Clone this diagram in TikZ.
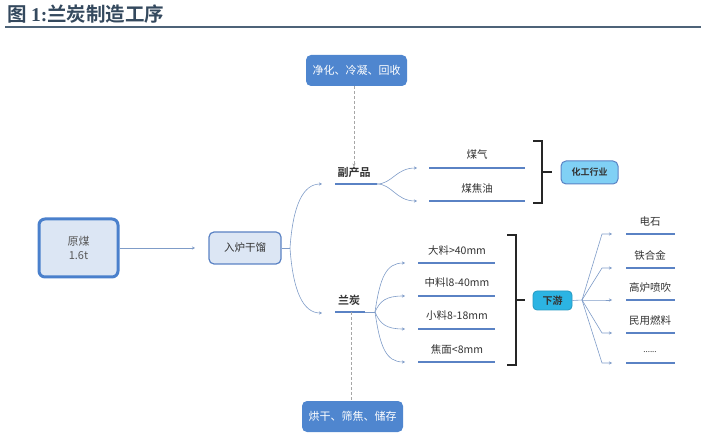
\documentclass[tikz,border=0pt]{standalone}
\usepackage{fontspec}
\setmainfont{Noto Sans CJK SC}[BoldFont={Noto Sans CJK SC Bold}]
\newfontfamily\tnr{Liberation Serif}
\usetikzlibrary{arrows.meta}
\definecolor{titlec}{HTML}{34495E}
\definecolor{rulec}{HTML}{4D6378}
\definecolor{connc}{HTML}{7F9CC8}
\definecolor{ulc}{HTML}{5A82C4}
\definecolor{rawc}{HTML}{4A80CC}
\definecolor{paleblue}{HTML}{DCE6F4}
\definecolor{boxblue}{HTML}{4F86CF}
\definecolor{skyfill}{HTML}{80D0F5}
\definecolor{cyanfill}{HTML}{2CB4E3}
\definecolor{txtc}{HTML}{333333}
\begin{document}
\begin{tikzpicture}[x=1pt,y=-1pt,
  conn/.style={draw=connc,line width=0.6pt},
  connarrow/.style={conn,-{Stealth[length=3pt,width=3pt]}},
  uline/.style={draw=ulc,line width=1.7pt},
  brk/.style={draw=black!85,line width=1.3pt},
  lbl/.style={font=\fontsize{10.5}{12}\selectfont,text=txtc,inner sep=0pt},
  blbl/.style={font=\fontsize{11}{12}\selectfont\bfseries,text=txtc,inner sep=0pt},
  darkbox/.style={fill=boxblue,rounded corners=5pt,text=white,minimum width=101pt,minimum height=31pt,inner sep=0pt,font=\fontsize{11}{12}\selectfont},
  dashc/.style={draw=black!35,line width=0.6pt,dashed,dash pattern=on 3pt off 2pt}
]
\useasboundingbox (0,0) rectangle (704,435);
% title
\node[anchor=west,inner sep=0pt,text=titlec,font=\fontsize{19.5}{21}\selectfont\bfseries] (title) at (7,14) {图 {\tnr\bfseries 1:}兰炭制造工序};
\draw[rulec,line width=2.2pt] (5,27) -- (701,27);

% left boxes
\node[draw=rawc,line width=3pt,fill=paleblue,rounded corners=6pt,minimum width=79pt,minimum height=58pt,align=center,text=black!65,font=\fontsize{11}{14}\selectfont,inner sep=0pt] (raw) at (78.5,248) {原煤\\1.6t};
\node[draw=ulc,line width=1.2pt,fill=paleblue,rounded corners=5pt,minimum width=72pt,minimum height=32pt,text=txtc,font=\fontsize{10.5}{12}\selectfont,inner sep=0pt] (gan) at (245,248) {入炉干馏};
\coordinate (ganin) at (195,248);
\draw[connarrow] (raw.east) -- (ganin);

% fork after gan
\coordinate (f1) at (290,248);
\coordinate (by0) at (322,184);
\coordinate (lt0) at (322,313);
\draw[conn] (gan.east) -- (f1);
\draw[connarrow] (f1) .. controls (293,205) and (303,184) .. (by0);
\draw[connarrow] (f1) .. controls (293,291) and (303,313) .. (lt0);

% by-products
\node[blbl] (by) at (354,172) {副产品};
\coordinate (byL) at (335,184);
\coordinate (byR) at (377,184);
\draw[uline] (byL) -- (byR);
\node[darkbox] (top) at (356.5,70.5) {净化、冷凝、回收};
\draw[dashc,-{Stealth[length=3pt,width=3pt]}] (top.south -| by.north) -- (by.north);

\coordinate (gasE) at (417,168);
\coordinate (tarE) at (417,201);
\draw[connarrow] (byR) .. controls (392,184) and (396,168) .. (gasE);
\draw[connarrow] (byR) .. controls (392,184) and (396,201) .. (tarE);
\node[lbl] (gas) at (477,155) {煤气};
\node[lbl] (tar) at (477,188) {煤焦油};
\coordinate (gasL) at (429,168); \coordinate (gasR) at (525,168);
\coordinate (tarL) at (429,201); \coordinate (tarR) at (525,201);
\draw[uline] (gasL) -- (gasR);
\draw[uline] (tarL) -- (tarR);

\coordinate (b1t) at (533,141); \coordinate (b1b) at (533,203);
\coordinate (b1m) at (542,172);
\draw[brk] (b1t) -- (542,141) -- (542,203) -- (b1b);
\node[draw=ulc,line width=1pt,fill=skyfill,rounded corners=5pt,minimum width=57pt,minimum height=23pt,inner sep=0pt,text=txtc,font=\fontsize{9}{10}\selectfont\bfseries] (chem) at (589.5,172.5) {化工行业};
\draw[brk] (b1m) -- (552,172);

% lantan
\node[blbl] (lt) at (349,300) {兰炭};
\coordinate (ltL) at (335,312);
\coordinate (ltR) at (365,312);
\coordinate (ltM) at (351,312);
\draw[uline] (ltL) -- (ltR);
\node[darkbox] (bot) at (352.5,416.5) {烘干、筛焦、储存};
\draw[dashc] (ltM) -- (ltM |- bot.north);

\coordinate (ltF) at (375,312);
\draw[conn] (ltR) -- (ltF);
\foreach \y/\n in {263/a,296/b,329/c,362/d}{
  \coordinate (e\n) at (405,\y);
  \draw[connarrow] (ltF) .. controls (380,{312+(\y-312)*0.7}) and (386,\y) .. (e\n);
  \draw[uline] (418,\y) -- (495,\y);
}
\node[lbl] (sa) at (457,251) {大料>40mm};
\node[lbl] (sb) at (457,283) {中料l8-40mm};
\node[lbl] (sc) at (457,316) {小料8-18mm};
\node[lbl] (sd) at (457,349) {焦面<8mm};

\coordinate (b2t) at (507,235); \coordinate (b2b) at (507,365);
\coordinate (b2m) at (516,300);
\draw[brk] (b2t) -- (516,235) -- (516,365) -- (b2b);
\node[draw=cyanfill!85!black,line width=0.8pt,fill=cyanfill,rounded corners=4pt,minimum width=39pt,minimum height=19pt,inner sep=0pt,text=txtc,font=\fontsize{10}{11}\selectfont\bfseries] (down) at (552.5,300.5) {下游};
\draw[brk] (b2m) -- (525,300);

% downstream fan
\coordinate (dF) at (582,300);
\draw[conn] (down.east) -- (dF);
\foreach \y/\n in {234/a,268/b,300/c,333/d,363/e}{
  \coordinate (u\n) at (612,\y);
  \draw[connarrow] (dF) -- (602,\y) -- (u\n);
  \draw[uline] (626,\y) -- (675,\y);
}
\node[lbl] (ua) at (650,222) {电石};
\node[lbl] (ub) at (650,255) {铁合金};
\node[lbl] (uc) at (650,288) {高炉喷吹};
\node[lbl] (ud) at (650,321) {民用燃料};
\node[lbl,font=\fontsize{8}{9}\selectfont] (ue) at (650,352) {......};
\end{tikzpicture}
\end{document}
